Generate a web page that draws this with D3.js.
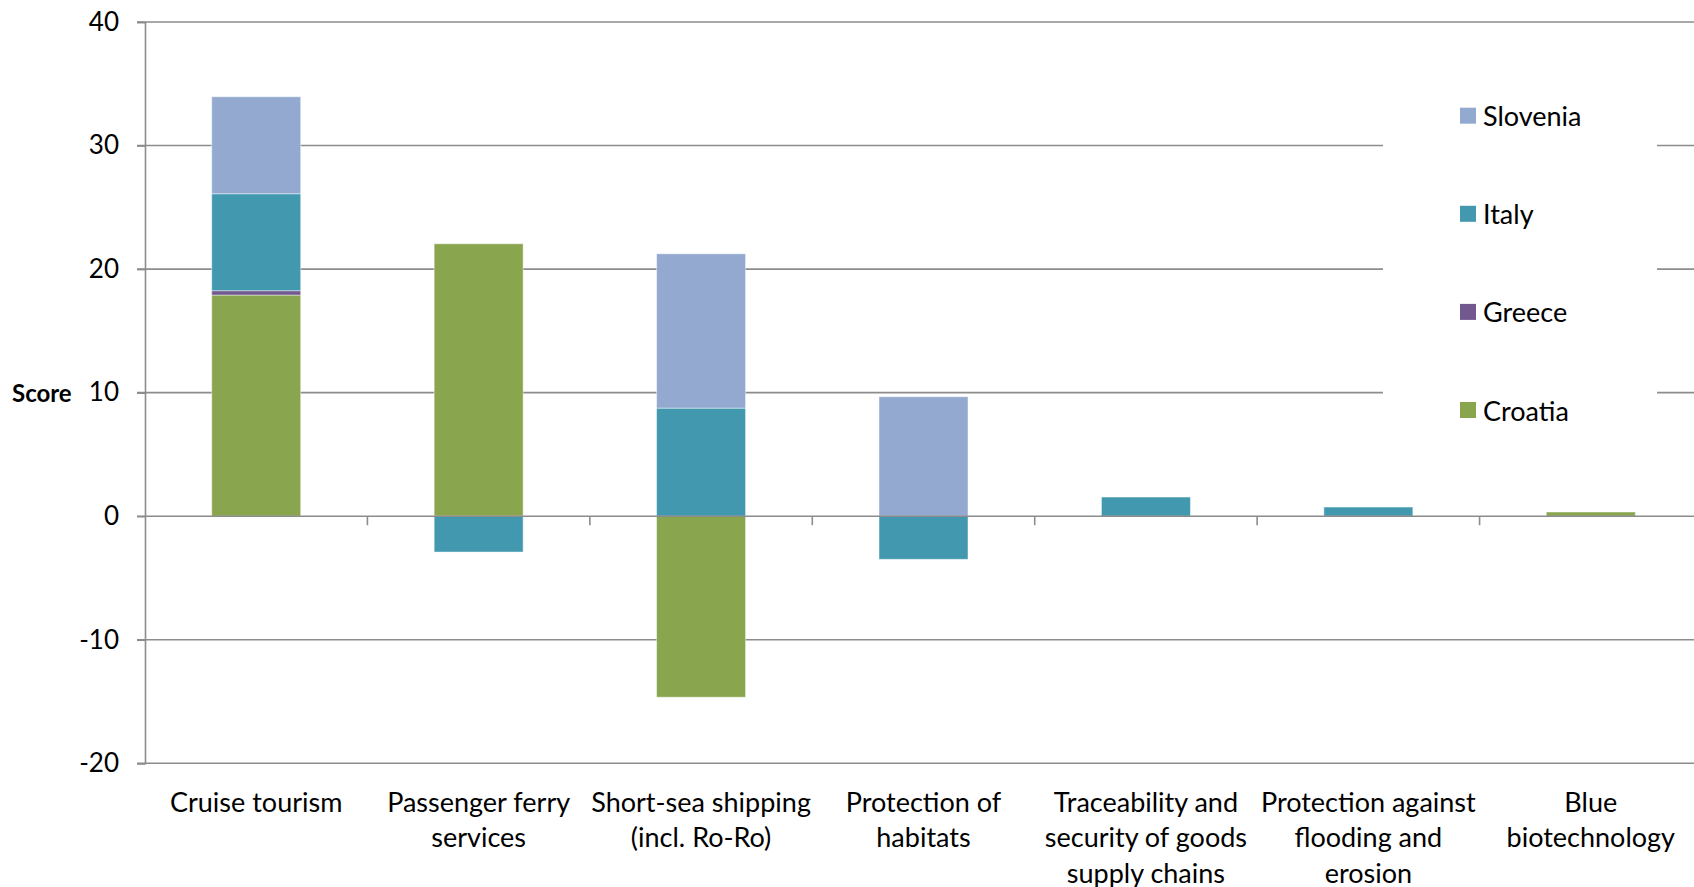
<!DOCTYPE html>
<html>
<head>
<meta charset="utf-8">
<script src="https://cdn.jsdelivr.net/npm/d3@7"></script>
<style>
  html, body { margin: 0; padding: 0; background: #fff; }
  svg { display: block; }
  text { font-family: Lato, "Open Sans", sans-serif; fill: #000; }
</style>
</head>
<body>
<svg id="chart" width="1694" height="887"></svg>
<script>
// Maritime activity scores by country, stacked per activity
const categories = [
  "Cruise tourism",
  "Passenger ferry\nservices",
  "Short-sea shipping\n(incl. Ro-Ro)",
  "Protection of\nhabitats",
  "Traceability and\nsecurity of goods\nsupply chains",
  "Protection against\nflooding and\nerosion",
  "Blue\nbiotechnology"
];
const seriesNames = ["Croatia", "Greece", "Italy", "Slovenia"];
const croatia  = [17.9, 22.05, -14.65, 0, 0, 0, 0.34];
const greece   = [0.35, 0, 0, 0, 0, 0, 0];
const italy    = [7.85, -2.9, 8.75, -3.49, 1.55, 0.74, 0];
const slovenia = [7.85, 0, 12.49, 9.67, 0, 0, 0];
const yTicks = [-20, -10, 0, 10, 20, 30, 40];
const legendOrder = ["Slovenia", "Italy", "Greece", "Croatia"];

const colors = {
  Croatia: "#89A54E",
  Greece: "#71588F",
  Italy: "#4198AF",
  Slovenia: "#93A9CF"
};

const seriesValues = { Croatia: croatia, Greece: greece, Italy: italy, Slovenia: slovenia };
const rows = categories.map((c, i) => {
  const r = { category: c };
  seriesNames.forEach(s => { r[s] = seriesValues[s][i]; });
  return r;
});

const svg = d3.select("#chart");
const plot = { left: 145, right: 1702, top: 22, bottom: 763.3 };
const gridColor = "#8c8c8c";

const x = d3.scaleBand()
  .domain(categories)
  .range([plot.left, plot.right])
  .paddingInner(0.6)
  .paddingOuter(0.3);

const y = d3.scaleLinear()
  .domain([-20, 40])
  .range([plot.bottom, plot.top]);

// horizontal gridlines
svg.append("g")
  .selectAll("line")
  .data(yTicks.filter(t => t !== 0))
  .join("line")
  .attr("x1", plot.left - 8)
  .attr("x2", plot.right)
  .attr("y1", d => y(d))
  .attr("y2", d => y(d))
  .attr("stroke", gridColor)
  .attr("stroke-width", 1.6);

// stacked bars (negatives stack downward from zero)
const stacked = d3.stack()
  .keys(seriesNames)
  .offset(d3.stackOffsetDiverging)(rows);

svg.append("g")
  .selectAll("g")
  .data(stacked)
  .join("g")
  .attr("fill", d => colors[d.key])
  .selectAll("rect")
  .data(d => d.filter(p => p[1] !== p[0]))
  .join("rect")
  .attr("x", d => x(d.data.category))
  .attr("width", x.bandwidth())
  .attr("y", d => y(Math.max(d[0], d[1])))
  .attr("height", d => Math.abs(y(d[0]) - y(d[1])))
  .attr("stroke", "rgba(255,255,255,0.45)")
  .attr("stroke-width", 1);

// zero line with category boundary ticks
svg.append("line")
  .attr("x1", plot.left - 8)
  .attr("x2", plot.right)
  .attr("y1", y(0))
  .attr("y2", y(0))
  .attr("stroke", gridColor)
  .attr("stroke-width", 1.6);

const step = x.step();
svg.append("g")
  .selectAll("line")
  .data(d3.range(1, categories.length))
  .join("line")
  .attr("x1", d => plot.left + d * step)
  .attr("x2", d => plot.left + d * step)
  .attr("y1", y(0))
  .attr("y2", y(0) + 9)
  .attr("stroke", gridColor)
  .attr("stroke-width", 1.6);

// vertical axis
const yAxis = d3.axisLeft(y)
  .tickValues(yTicks)
  .tickFormat(d => String(d))
  .tickSize(8)
  .tickPadding(18);

const yg = svg.append("g")
  .attr("transform", `translate(${plot.left},0)`)
  .call(yAxis);
yg.select(".domain").attr("stroke", gridColor).attr("stroke-width", 1.6);
yg.selectAll(".tick line").attr("stroke", gridColor).attr("stroke-width", 1.6);
yg.selectAll(".tick text")
  .style("font-family", "Lato, 'Open Sans', sans-serif")
  .style("font-size", "26px")
  .attr("fill", "#000");

// y-axis title
svg.append("text")
  .attr("x", 12)
  .attr("y", y(10))
  .attr("dominant-baseline", "central")
  .style("font-size", "24px")
  .style("font-weight", "bold")
  .text("Score");

// category labels
const lineHeight = 35.5;
svg.append("g")
  .selectAll("text")
  .data(categories)
  .join("text")
  .attr("text-anchor", "middle")
  .attr("x", d => x(d) + x.bandwidth() / 2)
  .attr("y", 811.5)
  .style("font-size", "27px")
  .each(function (d) {
    const t = d3.select(this);
    const cx = x(d) + x.bandwidth() / 2;
    d.split("\n").forEach((line, i) => {
      t.append("tspan")
        .attr("x", cx)
        .attr("dy", i === 0 ? 0 : lineHeight)
        .text(line);
    });
  });

// legend
const legend = svg.append("g");
legend.append("rect")
  .attr("x", 1383)
  .attr("y", 70)
  .attr("width", 274)
  .attr("height", 385)
  .attr("fill", "#fff");

const legendY = d3.scalePoint()
  .domain(legendOrder)
  .range([115.7, 410]);

const items = legend.selectAll("g.item")
  .data(legendOrder)
  .join("g")
  .attr("class", "item")
  .attr("transform", d => `translate(1460,${legendY(d)})`);

items.append("rect")
  .attr("x", 0)
  .attr("y", -8)
  .attr("width", 16)
  .attr("height", 16)
  .attr("fill", d => colors[d]);

items.append("text")
  .attr("x", 23)
  .attr("y", 0)
  .attr("dominant-baseline", "central")
  .style("font-size", "27px")
  .text(d => d);
</script>
</body>
</html>
